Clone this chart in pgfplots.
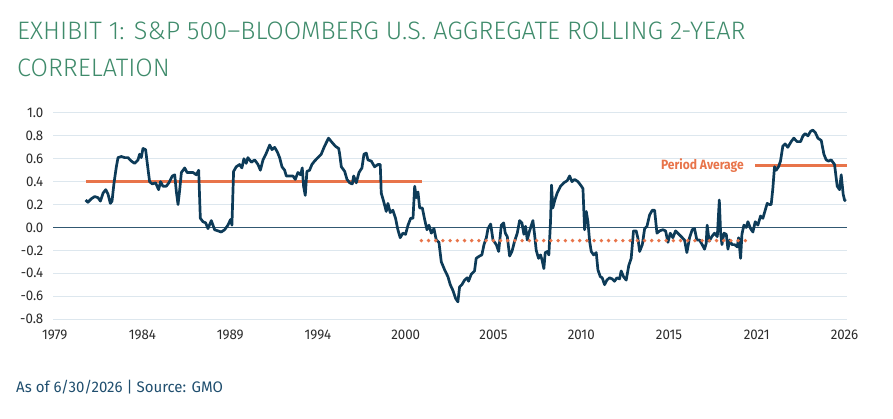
\documentclass[border=0pt]{standalone}
\usepackage{pgfplots}
\pgfplotsset{compat=1.18}
\usepackage{fontspec}
\setmainfont{Fira Sans}
\IfFontExistsTF{Fira Sans Light}{\newfontfamily\ttlfont{Fira Sans Light}}{\newfontfamily\ttlfont{Fira Sans}}
\newfontfamily\condfont[FakeStretch=0.95]{Fira Sans}
\newfontfamily\footfont[FakeStretch=0.98]{Fira Sans}
\newfontfamily\labfont[FakeStretch=0.9]{Fira Sans}
\definecolor{navy}{HTML}{0D3B58}
\definecolor{orng}{HTML}{E8744A}
\definecolor{ttl}{HTML}{3F8B6B}
\definecolor{gridc}{HTML}{DDE7EE}
\definecolor{foot}{HTML}{1F4E6E}
\definecolor{tick}{HTML}{2B2B2B}
\begin{document}
\begin{tikzpicture}
\useasboundingbox (0pt,0pt) rectangle (893pt,418pt);
\node[anchor=base west, inner sep=0pt, text=ttl, font=\ttlfont\fontsize{25.25}{25.25}\selectfont] at (17pt,378pt) {EXHIBIT 1: S\&P 500–BLOOMBERG U.S. AGGREGATE ROLLING 2-YEAR};
\node[anchor=base west, inner sep=0pt, text=ttl, font=\ttlfont\fontsize{25.25}{25.25}\selectfont] at (17pt,341.5pt) {CORRELATION};
\node[anchor=base west, inner sep=0pt, text=foot, font=\footfont\fontsize{15.3}{15.3}\selectfont] at (16pt,25.3pt) {As of 6/30/2026 | Source: GMO};
\begin{axis}[
  at={(53pt,99pt)}, anchor=south west, scale only axis,
  width=794pt, height=206pt,
  xmin=1978.9, xmax=2026.65, ymin=-0.8, ymax=1.0,
  axis line style={draw=none}, major tick length=0pt, tick style={draw=none},
  ymajorgrids, grid style={gridc, line width=1pt},
  ytick={-0.8,-0.6,-0.4,-0.2,0,0.2,0.4,0.6,0.8,1.0},
  yticklabels={-0.8,-0.6,-0.4,-0.2,0.0,0.2,0.4,0.6,0.8,1.0},
  xtick={1979,1984.2778,1989.5556,1994.8333,2000.1111,2005.3889,2010.6667,2015.9444,2021.2222,2026.5},
  xticklabels={1979,1984,1989,1994,2000,2005,2010,2015,2021,2026},
  yticklabel style={font=\condfont\fontsize{14}{14}\selectfont, text=tick, anchor=east, inner sep=0pt, xshift=-9.5pt},
  xticklabel style={font=\condfont\fontsize{14}{14}\selectfont, text=tick, anchor=north, inner sep=0pt, yshift=-11pt},
  clip=false,
]
\addplot[navy!85, line width=1pt] coordinates {(1978.9,0) (2026.65,0)};
\addplot[orng, line width=2.5pt] coordinates {(1980.86,0.40) (2001.07,0.40)};
\addplot[orng, line width=2.5pt] coordinates {(2021.13,0.54) (2026.65,0.54)};
\addplot[navy, line width=2.7pt, line join=round] coordinates {
(1980.86,0.24)(1981.00,0.22)(1981.20,0.25)(1981.41,0.27)(1981.61,0.26)(1981.75,0.23)(1981.91,0.30)(1982.07,0.33)(1982.21,0.29)(1982.35,0.21)(1982.45,0.23)(1982.57,0.39)(1982.71,0.53)(1982.81,0.61)(1983.01,0.62)(1983.21,0.61)(1983.41,0.61)(1983.61,0.58)(1983.81,0.56)(1984.01,0.59)(1984.11,0.64)(1984.21,0.61)(1984.31,0.69)(1984.47,0.68)(1984.57,0.56)(1984.71,0.40)(1984.87,0.38)(1985.07,0.39)(1985.25,0.33)(1985.37,0.40)(1985.51,0.36)(1985.71,0.36)(1985.87,0.39)(1986.08,0.45)(1986.22,0.46)(1986.32,0.31)(1986.42,0.20)(1986.52,0.33)(1986.62,0.48)(1986.82,0.52)(1986.96,0.48)(1987.12,0.48)(1987.32,0.48)(1987.52,0.46)(1987.66,0.50)(1987.76,0.08)(1987.92,0.05)(1988.08,0.04)(1988.22,-0.01)(1988.42,0.06)(1988.62,-0.02)(1988.82,-0.03)(1989.02,-0.04)(1989.22,-0.02)(1989.42,0.02)(1989.58,0.07)(1989.66,0.02)(1989.76,0.49)(1989.92,0.53)(1990.12,0.55)(1990.26,0.52)(1990.38,0.60)(1990.52,0.56)(1990.62,0.61)(1990.83,0.57)(1991.03,0.59)(1991.23,0.55)(1991.37,0.50)(1991.53,0.59)(1991.73,0.65)(1991.93,0.72)(1992.07,0.68)(1992.23,0.70)(1992.39,0.66)(1992.53,0.61)(1992.67,0.53)(1992.83,0.50)(1992.93,0.45)(1993.13,0.45)(1993.33,0.45)(1993.47,0.42)(1993.63,0.48)(1993.79,0.46)(1993.89,0.52)(1993.97,0.36)(1994.07,0.28)(1994.17,0.49)(1994.33,0.50)(1994.47,0.55)(1994.63,0.58)(1994.83,0.61)(1995.03,0.64)(1995.23,0.71)(1995.47,0.78)(1995.64,0.75)(1995.88,0.71)(1996.08,0.69)
(1996.14,0.64)(1996.24,0.53)(1996.44,0.49)(1996.58,0.42)(1996.74,0.39)(1996.90,0.38)(1996.98,0.45)(1997.14,0.39)(1997.30,0.48)(1997.48,0.52)(1997.60,0.64)(1997.74,0.65)(1997.84,0.59)(1998.04,0.58)(1998.24,0.53)(1998.44,0.55)(1998.58,0.55)(1998.64,0.30)(1998.78,0.23)(1998.94,0.14)(1999.04,0.21)(1999.18,0.13)(1999.34,0.15)(1999.50,0.08)(1999.64,-0.02)(1999.78,-0.09)(1999.94,-0.05)(2000.10,-0.06)(2000.25,0.02)(2000.41,0.08)(2000.55,0.08)(2000.65,0.36)(2000.75,0.26)(2000.85,0.31)(2000.95,0.17)(2001.11,0.17)(2001.25,0.07)(2001.39,-0.02)(2001.51,0.02)(2001.65,-0.05)(2001.81,-0.01)(2001.95,-0.11)(2002.11,-0.13)(2002.25,-0.30)(2002.45,-0.37)(2002.65,-0.43)(2002.79,-0.50)(2002.95,-0.55)(2003.11,-0.62)(2003.25,-0.65)(2003.35,-0.52)
(2003.49,-0.50)(2003.65,-0.46)(2003.81,-0.44)(2003.89,-0.47)(2004.05,-0.41)(2004.25,-0.38)(2004.35,-0.27)(2004.55,-0.25)(2004.69,-0.24)(2004.82,-0.15)(2004.96,-0.09)(2005.06,-0.01)(2005.22,0.03)(2005.36,-0.11)(2005.56,-0.15)(2005.70,-0.21)(2005.86,0.02)(2006.00,0.04)(2006.10,-0.05)(2006.22,-0.08)(2006.36,-0.25)(2006.50,-0.21)(2006.66,-0.12)(2006.82,-0.05)(2006.96,0.06)(2007.10,0.04)(2007.22,-0.06)(2007.32,0.01)(2007.42,-0.11)(2007.56,-0.03)(2007.76,0.06)(2007.86,-0.06)(2007.96,-0.20)(2008.10,-0.27)(2008.22,-0.24)(2008.32,-0.29)(2008.42,-0.36)(2008.50,-0.22)(2008.62,-0.21)(2008.72,-0.24)(2008.82,0.05)(2008.88,0.37)(2008.96,0.17)(2009.06,0.23)(2009.22,0.30)(2009.42,0.36)(2009.62,0.39)(2009.83,0.41)(2009.97,0.45)(2010.11,0.40)(2010.27,0.42)(2010.47,0.40)(2010.63,0.37)(2010.77,0.34)(2010.87,-0.02)(2010.97,0.14)(2011.07,0.05)(2011.17,-0.12)(2011.27,-0.21)(2011.41,-0.24)(2011.57,-0.22)(2011.67,-0.37)(2011.81,-0.43)(2011.93,-0.44)(2012.07,-0.50)(2012.21,-0.46)(2012.37,-0.44)(2012.53,-0.45)(2012.67,-0.47)(2012.81,-0.44)(2012.97,-0.45)(2013.07,-0.38)(2013.21,-0.43)(2013.37,-0.46)(2013.53,-0.33)(2013.67,-0.27)(2013.81,-0.03)(2013.97,-0.03)(2014.07,-0.09)(2014.18,-0.21)(2014.34,-0.15)(2014.48,-0.01)(2014.62,0.01)(2014.78,0.11)(2014.94,0.15)(2015.08,0.15)(2015.22,-0.05)(2015.38,-0.03)(2015.58,-0.02)(2015.74,-0.03)(2015.88,-0.13)(2016.02,-0.05)(2016.18,-0.09)(2016.34,-0.03)(2016.54,-0.06)(2016.68,-0.08)(2016.88,-0.11)(2017.02,-0.22)(2017.18,-0.09)(2017.34,-0.02)(2017.48,-0.01)(2017.62,-0.11)(2017.78,-0.11)(2017.94,-0.15)(2018.08,-0.19)(2018.18,-0.14)(2018.24,0.02)
(2018.36,-0.12)(2018.52,-0.08)(2018.68,-0.05)(2018.85,-0.08)(2018.97,0.24)(2019.05,-0.05)(2019.13,-0.15)(2019.25,-0.05)(2019.39,-0.06)(2019.49,-0.19)(2019.59,-0.11)(2019.73,-0.15)(2019.89,-0.15)(2020.05,-0.17)(2020.13,-0.09)(2020.25,-0.27)(2020.33,-0.06)(2020.45,0.02)(2020.59,0.00)(2020.69,0.05)(2020.85,-0.01)(2020.99,-0.04)(2021.13,0.05)(2021.29,0.02)(2021.45,0.10)(2021.59,0.08)(2021.73,0.15)(2021.85,0.21)(2021.99,0.20)(2022.09,0.20)(2022.19,0.34)(2022.29,0.53)(2022.39,0.50)(2022.53,0.53)(2022.65,0.58)(2022.79,0.71)(2022.93,0.73)(2023.09,0.70)(2023.29,0.75)(2023.45,0.78)(2023.65,0.75)(2023.86,0.75)(2024.00,0.80)(2024.14,0.82)(2024.30,0.80)(2024.46,0.84)(2024.60,0.85)(2024.74,0.83)(2024.90,0.78)(2025.10,0.76)(2025.26,0.64)(2025.40,0.59)(2025.54,0.58)(2025.70,0.59)(2025.90,0.55)(2026.06,0.36)(2026.20,0.33)(2026.30,0.46)(2026.42,0.29)(2026.50,0.24)(2026.58,0.23)
};
\addplot[orng, line width=3.8pt, line cap=round, dash pattern=on 0pt off 7.2pt] coordinates {(2001.05,-0.115) (2020.85,-0.115)};
\node[anchor=east, inner sep=0pt, text=orng, font=\labfont\bfseries\fontsize{13.4}{13.4}\selectfont] at (axis cs:2020.45,0.54) {Period Average};
\end{axis}
\end{tikzpicture}
\end{document}
